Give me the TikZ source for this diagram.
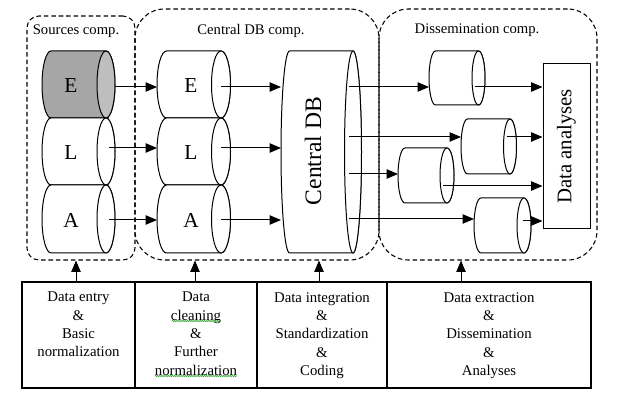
\documentclass[tikz,border=0pt]{standalone}
\usepackage{fontspec}
\setmainfont{Liberation Serif}
\usetikzlibrary{arrows.meta,fit,decorations.pathmorphing}
\definecolor{bodygray}{HTML}{A6A6A6}
\definecolor{endgray}{HTML}{BEBEBE}
\definecolor{spellgreen}{HTML}{3DAA3D}
% #1 name, #2 left x, #3 right ellipse centre x, #4 top y, #5 bottom y, #6 x radius, #7 body fill, #8 end fill
\newcommand{\hcyl}[8]{%
  \draw[cylline,fill=#7] (#3,#4) -- ({#2+#6},#4)
     arc[start angle=-90,end angle=-270,x radius=#6,y radius={(#5-#4)/2}]
     -- (#3,#5)
     arc[start angle=90,end angle=-90,x radius=#6,y radius={(#5-#4)/2}] -- cycle;
  \draw[cylline,fill=#8] (#3,{(#4+#5)/2}) ellipse[x radius=#6,y radius={(#5-#4)/2}];
  \coordinate (#1-w) at (#2,{(#4+#5)/2});
  \coordinate (#1-c) at (#3,{(#4+#5)/2});
  \coordinate (#1-e) at ({#3+#6},{(#4+#5)/2});
}
\begin{document}
\begin{tikzpicture}[x=0.75pt,y=-0.75pt,
  cylline/.style={line width=0.75pt},
  arr/.style={line width=0.75pt,-{Triangle[length=8.5pt,width=7pt]}},
  compbox/.style={draw,dash pattern=on 3.4pt off 2.2pt,line width=0.8pt,inner sep=0pt},
  cell/.style={draw,line width=0.8pt,inner sep=0pt},
  celltext/.style={align=center,inner sep=0pt,anchor=north,font=\fontsize{11.1}{13.75}\selectfont},
  complabel/.style={font=\fontsize{11}{13}\selectfont},
  letter/.style={font=\fontsize{16}{19}\selectfont},
  spell/.style={spellgreen,line width=0.5pt,decorate,decoration={zigzag,segment length=1.6pt,amplitude=0.5pt}}
]
\useasboundingbox (0,0) rectangle (622,406);

% component boxes
\node[compbox,rounded corners=9pt,fit={(27,16) (135,260)}] (src) {};
\node[compbox,rounded corners=22pt,fit={(135,9) (379,260)}] (cen) {};
\node[compbox,rounded corners=22pt,fit={(379,9) (597,260)}] (dis) {};
\node[complabel] (lsrc) at (76,31) {Sources comp.};
\node[complabel] (lcen) at (251,31) {Central DB comp.};
\node[complabel] (ldis) at (477,30) {Dissemination comp.};

% source cylinders
\hcyl{sE}{42}{106}{51}{118}{9}{bodygray}{endgray}
\hcyl{sL}{42}{106}{118}{185}{9}{white}{white}
\hcyl{sA}{42}{106}{185}{253}{9}{white}{white}
\node[letter] (tsE) at (71,86) {E};
\node[letter] (tsL) at (71,153) {L};
\node[letter] (tsA) at (71,220) {A};

% central column cylinders
\hcyl{cE}{157}{221}{51}{118}{9.5}{white}{white}
\hcyl{cL}{157}{221}{118}{185}{9.5}{white}{white}
\hcyl{cA}{157}{221}{185}{253}{9.5}{white}{white}
\node[letter] (tcE) at (191,86) {E};
\node[letter] (tcL) at (191,153) {L};
\node[letter] (tcA) at (191,220) {A};

% central DB
\hcyl{db}{281}{353}{51}{253}{8.5}{white}{white}
\node[rotate=90,font=\fontsize{17.7}{20}\selectfont] (tdb) at (313,151) {Central DB};

% dissemination cylinders
\hcyl{d1}{429}{478.5}{51}{105}{6.5}{white}{white}
\hcyl{d2}{461}{510}{119}{174}{6.5}{white}{white}
\hcyl{d3}{398}{447}{148}{203}{7}{white}{white}
\hcyl{d4}{474}{524}{198}{253}{7}{white}{white}

% data analyses
\node[draw,line width=0.75pt,inner sep=0pt,fill=white,fit={(543,64) (590,229)}] (da) {};
\node[rotate=90,font=\fontsize{15.6}{18}\selectfont] (tda) at (da.center) {Data analyses};

% row levels
\coordinate (rE) at (0,87);
\coordinate (rL) at (0,148);
\coordinate (rA) at (0,220);
\coordinate (r1) at (0,87);
\coordinate (r2) at (0,137);
\coordinate (r3) at (0,174);
\coordinate (r3o) at (0,186);
\coordinate (r4) at (0,219);
\coordinate (r4o) at (0,221);

% arrows sources -> central column
\draw[arr] (sE-e |- rE) -- (cE-w |- rE);
\draw[arr] ([xshift=2.25pt]sL-c |- rL) -- (cL-w |- rL);
\draw[arr] ([xshift=2.25pt]sA-c |- rA) -- (cA-w |- rA);
% central column -> central DB
\draw[arr] (cE-c |- rE) -- (db-w |- rE);
\draw[arr] (cL-c |- rL) -- (db-w |- rL);
\draw[arr] (cA-c |- rA) -- (db-w |- rA);
% central DB -> dissemination
\draw[arr] ([xshift=-3pt]db-c |- r1) -- (d1-w |- r1);
\draw[arr] ([xshift=-3pt]db-c |- r2) -- (d2-w |- r2);
\draw[arr] ([xshift=-3pt]db-c |- r3) -- (d3-w |- r3);
\draw[arr] ([xshift=-3pt]db-c |- r4) -- (d4-w |- r4);
% dissemination -> data analyses
\draw[arr] ([xshift=-2.5pt]d1-c |- r1) -- (da.west |- r1);
\draw[arr] ([xshift=-2.5pt]d2-c |- r2) -- (da.west |- r2);
\draw[arr] ([xshift=-3pt]d3-c |- r3o) -- (da.west |- r3o);
\draw[arr] ([xshift=-1pt]d4-c |- r4o) -- (da.west |- r4o);

% table
\node[cell,fit={(22,282) (135,388)}] (c1) {};
\node[cell,fit={(135,282) (257,388)}] (c2) {};
\node[cell,fit={(257,282) (387,388)}] (c3) {};
\node[cell,fit={(387,282) (591,388)}] (c4) {};
\coordinate (ty) at (0,292);
\node[celltext] (t1) at (c1.center |- ty) {Data entry\\\&\\Basic\\normalization};
\node[celltext] (t2) at (c2.center |- ty) {Data\\cleaning\\\&\\Further\\normalization};
\node[celltext] (t3) at (c3.center |- ty) {Data integration\\\&\\Standardization\\\&\\Coding};
\node[celltext] (t4) at (c4.center |- ty) {Data extraction\\\&\\Dissemination\\\&\\Analyses};
\draw[spell] (172,321) -- (221,321);
\draw[spell] (155,376) -- (237,376);

% upward arrows
\coordinate (a1) at (76,0);
\coordinate (a2) at (195,0);
\coordinate (a3) at (319,0);
\coordinate (a4) at (461,0);
\draw[arr] (c1.north -| a1) -- (src.south -| a1);
\draw[arr] (c2.north -| a2) -- (cen.south -| a2);
\draw[arr] (c3.north -| a3) -- (cen.south -| a3);
\draw[arr] (c4.north -| a4) -- (dis.south -| a4);
\end{tikzpicture}
\end{document}
